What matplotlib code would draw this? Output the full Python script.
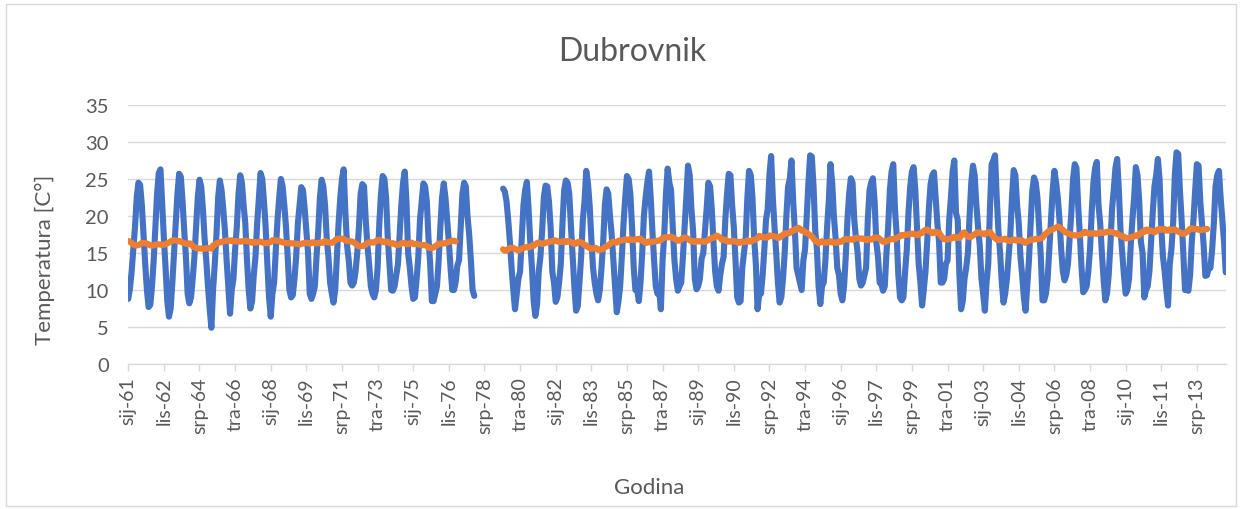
import numpy as np
import pandas as pd
import matplotlib
matplotlib.use('Agg')
import matplotlib.pyplot as plt
from matplotlib.patches import Rectangle

nan = np.nan

# mjesecne temperature Dubrovnik, sij..pro, jedan red = jedna godina (1961-2014)
monthly_temp = [
    [8.8, 10.2, 12.5, 15.5, 18.6, 22.5, 24.5, 24.2, 21.5, 17.5, 13.5, 10.0],
    [7.7, 8.0, 10.5, 14.0, 18.5, 23.0, 25.8, 26.3, 21.5, 17.0, 13.0, 8.5],
    [6.4, 7.5, 11.0, 15.0, 19.0, 23.0, 25.7, 25.3, 22.0, 18.0, 14.5, 9.5],
    [8.2, 9.0, 11.5, 14.5, 18.5, 22.5, 24.9, 24.0, 21.0, 17.0, 14.0, 10.5],
    [7.5, 4.9, 10.0, 13.5, 17.5, 22.5, 24.8, 23.5, 21.0, 18.0, 14.0, 10.5],
    [6.8, 10.0, 11.5, 15.5, 18.5, 23.0, 25.5, 24.5, 21.5, 19.0, 14.0, 10.0],
    [7.5, 8.5, 12.0, 14.5, 19.0, 22.5, 25.8, 25.0, 22.0, 18.5, 13.5, 9.0],
    [6.4, 9.5, 11.0, 15.5, 19.5, 22.5, 25.0, 24.0, 21.5, 18.5, 14.5, 10.0],
    [9.0, 9.3, 11.5, 14.5, 19.0, 21.5, 23.9, 23.5, 21.0, 18.0, 15.0, 9.5],
    [8.8, 9.5, 10.5, 14.5, 18.0, 22.5, 24.9, 24.0, 21.5, 17.0, 14.5, 11.0],
    [9.5, 8.3, 10.0, 14.5, 19.0, 22.5, 25.0, 26.3, 20.5, 16.0, 14.0, 11.0],
    [10.6, 11.0, 12.5, 15.0, 18.5, 23.0, 24.3, 24.0, 19.5, 16.0, 13.5, 10.5],
    [9.5, 9.0, 10.0, 13.0, 19.0, 23.0, 25.4, 25.0, 22.5, 17.0, 13.5, 10.0],
    [9.9, 10.5, 12.0, 13.5, 17.5, 21.5, 24.5, 26.0, 22.0, 15.0, 13.0, 10.5],
    [8.8, 9.0, 11.5, 14.5, 19.5, 22.0, 24.4, 24.0, 22.0, 17.0, 13.5, 8.5],
    [8.5, 9.5, 10.5, 14.0, 18.5, 22.5, 24.4, 22.5, 19.5, 16.5, 13.0, 10.0],
    [10.0, 11.0, 13.3, 14.0, 18.5, 23.0, 24.5, 24.0, 20.0, 17.5, 14.0, 10.0],
    [9.2, nan, nan, nan, nan, nan, nan, nan, nan, nan, nan, nan],
    [nan, nan, nan, nan, nan, 23.7, 23.3, 22.0, 19.5, 16.5, 13.0, 10.0],
    [7.4, 9.5, 11.5, 12.5, 17.0, 21.5, 23.5, 24.6, 21.0, 16.5, 13.0, 8.5],
    [6.5, 8.0, 12.5, 14.5, 18.0, 22.5, 24.1, 24.0, 22.0, 18.5, 12.5, 11.0],
    [8.4, 9.0, 11.0, 13.5, 19.0, 23.5, 24.8, 24.5, 23.0, 18.5, 14.5, 10.5],
    [7.2, 7.8, 11.0, 14.5, 19.5, 22.0, 26.1, 24.5, 21.5, 17.0, 13.0, 11.0],
    [9.5, 8.6, 10.0, 13.0, 16.5, 21.5, 23.6, 23.0, 20.0, 17.5, 14.0, 10.5],
    [7.0, 8.5, 10.5, 14.5, 19.0, 22.5, 25.4, 25.0, 23.0, 18.5, 13.0, 10.0],
    [10.0, 8.5, 11.0, 15.0, 20.0, 22.5, 24.5, 26.0, 22.5, 18.0, 14.0, 10.5],
    [9.5, 10.0, 7.4, 14.0, 17.5, 23.0, 26.4, 24.5, 23.5, 18.5, 14.0, 11.5],
    [9.9, 10.5, 11.0, 14.5, 18.5, 22.5, 26.8, 25.5, 21.0, 18.0, 11.5, 10.1],
    [10.5, 11.5, 14.2, 15.0, 18.0, 21.0, 24.5, 24.0, 21.0, 16.5, 12.5, 10.5],
    [9.9, 12.0, 13.5, 14.5, 19.5, 23.0, 25.7, 25.5, 21.5, 18.5, 14.0, 9.0],
    [8.3, 8.5, 13.0, 15.0, 17.0, 22.5, 26.1, 25.5, 22.5, 17.0, 13.5, 7.4],
    [9.5, 9.5, 12.0, 15.5, 19.5, 21.0, 25.5, 28.1, 22.5, 18.5, 15.0, 11.0],
    [8.3, 9.0, 11.5, 15.0, 20.0, 24.0, 25.0, 27.5, 22.0, 18.0, 13.0, 12.0],
    [11.0, 10.0, 14.0, 15.5, 20.0, 24.5, 28.2, 28.0, 24.0, 18.0, 15.5, 10.5],
    [8.1, 10.5, 11.0, 14.0, 18.5, 22.0, 27.0, 24.5, 20.0, 17.0, 13.0, 12.0],
    [9.5, 8.6, 10.5, 14.5, 19.5, 23.0, 25.1, 24.5, 19.5, 17.0, 15.0, 11.5],
    [10.6, 11.0, 12.0, 13.0, 19.5, 23.5, 24.5, 25.1, 22.0, 16.5, 14.5, 11.0],
    [10.8, 9.9, 10.5, 15.0, 18.5, 23.5, 26.0, 27.0, 21.0, 17.5, 12.0, 9.0],
    [8.6, 9.0, 12.5, 15.5, 20.5, 24.0, 26.0, 26.6, 23.5, 18.5, 13.5, 11.0],
    [7.9, 10.0, 12.5, 16.5, 21.0, 24.3, 25.5, 25.9, 22.5, 19.0, 16.5, 11.0],
    [11.0, 11.5, 13.5, 14.0, 19.5, 22.5, 26.0, 27.5, 20.4, 19.5, 12.0, 7.4],
    [8.5, 11.5, 13.0, 15.0, 20.0, 24.5, 26.8, 25.5, 21.5, 18.5, 16.0, 11.5],
    [9.5, 7.2, 11.0, 13.5, 21.0, 27.0, 27.5, 28.2, 22.5, 18.0, 15.0, 11.0],
    [8.3, 9.5, 11.5, 14.5, 17.5, 22.5, 26.2, 25.5, 21.5, 19.0, 14.5, 12.0],
    [9.0, 7.2, 10.5, 14.0, 19.0, 23.5, 25.2, 24.5, 22.5, 18.5, 14.5, 8.6],
    [8.6, 9.5, 11.5, 15.5, 19.5, 23.5, 26.1, 24.5, 22.5, 19.5, 15.5, 12.5],
    [11.3, 12.0, 13.5, 17.0, 20.5, 25.0, 27.0, 26.5, 21.5, 17.5, 13.0, 9.7],
    [10.0, 10.5, 12.5, 15.5, 20.5, 24.5, 26.5, 27.3, 21.5, 19.0, 15.0, 11.5],
    [8.6, 9.5, 12.0, 16.0, 21.0, 23.5, 26.5, 27.7, 23.5, 18.0, 15.0, 12.0],
    [9.5, 10.0, 11.5, 16.0, 19.5, 22.5, 26.6, 25.5, 22.0, 16.5, 15.0, 9.0],
    [10.0, 10.5, 12.5, 16.5, 20.5, 24.0, 25.5, 27.7, 25.0, 18.5, 14.5, 12.5],
    [10.0, 7.9, 13.5, 15.5, 19.0, 25.5, 28.6, 28.4, 23.5, 19.5, 15.0, 10.0],
    [10.0, 9.9, 12.0, 16.5, 19.5, 23.5, 27.0, 26.8, 22.0, 19.0, 16.0, 11.9],
    [12.0, 13.0, 13.0, 15.5, 19.0, 24.0, 25.5, 26.1, 22.5, 19.5, 16.5, 12.4],
]

tick_labels = ['sij-61', 'lis-62', 'srp-64', 'tra-66', 'sij-68', 'lis-69', 'srp-71',
               'tra-73', 'sij-75', 'lis-76', 'srp-78', 'tra-80', 'sij-82', 'lis-83',
               'srp-85', 'tra-87', 'sij-89', 'lis-90', 'srp-92', 'tra-94', 'sij-96',
               'lis-97', 'srp-99', 'tra-01', 'sij-03', 'lis-04', 'srp-06', 'tra-08',
               'sij-10', 'lis-11', 'srp-13']
label_step = 21

temp = pd.Series(np.array(monthly_temp).ravel())
# pomicni prosjek 12 mjeseci (prema naprijed, kao u excelu)
avg12 = temp.rolling(12).mean().shift(-11)
x = np.arange(len(temp))

plt.rcParams['font.family'] = ['Lato', 'DejaVu Sans']

fig = plt.figure(figsize=(12.44, 5.10), dpi=100)
ax = fig.add_axes([0.1031, 0.2843, 0.8822, 0.5079])

ax.plot(x, temp, color='#4472C4', lw=4.4, solid_joinstyle='round', solid_capstyle='round')
ax.plot(x, avg12, color='#ED7D31', lw=4.5, solid_joinstyle='round', solid_capstyle='round')

ax.set_xlim(0, len(temp) - 1)
ax.set_ylim(0, 35)
ax.set_yticks(range(0, 36, 5))
ax.grid(axis='y', color='#d9d9d9', lw=1.0)
ax.set_axisbelow(True)

ax.set_xticks(np.arange(len(tick_labels)) * label_step)
ax.set_xticklabels(tick_labels, rotation=90, va='top', ha='center')

for s in ['top', 'right', 'left']:
    ax.spines[s].set_visible(False)
ax.spines['bottom'].set_color('#d9d9d9')
ax.spines['bottom'].set_linewidth(1.0)
ax.tick_params(axis='y', length=0, pad=14, labelsize=14.5, labelcolor='#595959')
ax.tick_params(axis='x', length=5, width=1.0, color='#d9d9d9', pad=4,
               labelsize=14, labelcolor='#595959')

fig.text(0.508, 0.898, 'Dubrovnik', ha='center', va='center', fontsize=23, color='#595959')
fig.text(0.036, 1 - 260 / 510, 'Temperatura [C°]', rotation=90, ha='center', va='center',
         fontsize=16, color='#595959')
fig.text(0.522, 1 - 488 / 510, 'Godina', ha='center', va='center', fontsize=16, color='#595959')

fig.patches.append(Rectangle((6 / 1244, 3 / 510), 1230 / 1244, 502 / 510, transform=fig.transFigure,
                             fill=False, edgecolor='#d9d9d9', lw=1.0))

fig.savefig('out.png', dpi=100)
